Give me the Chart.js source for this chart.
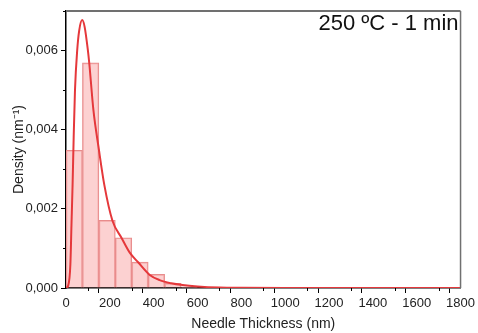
<!DOCTYPE html>
<html>
<head>
<meta charset="utf-8">
<script src="https://cdn.jsdelivr.net/npm/chart.js@4.4.1/dist/chart.umd.min.js"></script>
<style>
  html, body { margin: 0; padding: 0; background: #fff; }
  #wrap { width: 478px; height: 333px; }
</style>
</head>
<body>
<div id="wrap"><canvas id="histChart" width="478" height="333"></canvas></div>
<script>
// histogram bins (75 nm wide), centres and density
const binCenters = [37.5, 112.5, 187.5, 262.5, 337.5, 412.5, 487.5, 562.5];
const binDensity = [0.00348, 0.00569, 0.00171, 0.00127, 0.000655, 0.000345, 0.000118, 0.00003];

// fitted log-normal curve
const fitX = [0, 10, 20, 25, 30, 35, 41, 51, 60, 74, 85, 100, 106, 125, 150, 175, 212, 253, 290, 329, 382, 427, 480, 532, 600, 700, 800, 1000, 1400, 1800];
const fitY = [0, 0.00006, 0.0006, 0.0016, 0.0026, 0.0038, 0.005, 0.006, 0.0065, 0.00677, 0.0066, 0.006, 0.00569, 0.0045, 0.0035, 0.0026, 0.0017, 0.00127, 0.0009, 0.00065, 0.00033, 0.0002, 0.00012, 0.000075, 0.00004, 0.000012, 0.000004, 0, 0, 0];

const panelLabel = "250 ºC - 1 min";

const FONT = "'Liberation Sans', Arial, sans-serif";

// draws frame (top/right), short minor ticks and the panel label
const framePlugin = {
    id: "frame",
    afterDraw(chart) {
        const { ctx, chartArea: a, scales } = chart;
        ctx.save();
        ctx.strokeStyle = "#707070";
        ctx.lineWidth = 2;
        ctx.beginPath();
        ctx.moveTo(a.left, a.top);
        ctx.lineTo(a.right, a.top);
        ctx.stroke();
        ctx.lineWidth = 1.5;
        ctx.beginPath();
        ctx.moveTo(a.right, a.top);
        ctx.lineTo(a.right, a.bottom);
        ctx.stroke();

        // minor ticks
        ctx.strokeStyle = "#000";
        ctx.lineWidth = 1;
        scales.x.ticks.forEach((t) => {
            if (t.value % 200 !== 0) {
                const px = Math.round(scales.x.getPixelForValue(t.value)) + 0.5;
                ctx.beginPath();
                ctx.moveTo(px, a.bottom);
                ctx.lineTo(px, a.bottom + 3);
                ctx.stroke();
            }
        });
        scales.y.ticks.forEach((t) => {
            const k = Math.round(t.value * 1000);
            if (k % 2 !== 0) {
                const py = Math.round(scales.y.getPixelForValue(t.value)) + 0.5;
                ctx.beginPath();
                ctx.moveTo(a.left, py);
                ctx.lineTo(a.left - 3, py);
                ctx.stroke();
            }
        });

        ctx.fillStyle = "#111";
        ctx.font = "22px " + FONT;
        ctx.textAlign = "right";
        ctx.textBaseline = "alphabetic";
        ctx.fillText(panelLabel, a.right - 2, 30);
        ctx.restore();
    }
};

const ctx = document.getElementById("histChart");
new Chart(ctx, {
    type: "bar",
    data: {
        datasets: [
            {
                type: "line",
                label: "fit",
                data: fitX.map((x, i) => ({ x: x, y: fitY[i] })),
                borderColor: "#E5383B",
                borderWidth: 2,
                pointRadius: 0,
                cubicInterpolationMode: "monotone",
                fill: false,
                order: 0
            },
            {
                type: "bar",
                label: "hist",
                data: binCenters.map((x, i) => ({ x: x, y: binDensity[i] })),
                backgroundColor: "rgba(250, 185, 185, 0.65)",
                borderColor: "#E88C8C",
                borderWidth: 1,
                barPercentage: 1,
                categoryPercentage: 1,
                order: 1
            }
        ]
    },
    options: {
        responsive: false,
        animation: false,
        events: [],
        layout: { padding: { top: 11, right: 16, left: 0, bottom: 0 } },
        plugins: {
            legend: { display: false },
            tooltip: { enabled: false }
        },
        scales: {
            x: {
                type: "linear",
                offset: false,
                min: 0,
                max: 1800,
                afterFit: (s) => { s.height = 45; },
                border: { color: "#000", width: 1.5 },
                grid: {
                    drawOnChartArea: false,
                    tickLength: 5,
                    tickColor: (c) => (c.tick && c.tick.value % 200 === 0 ? "#000" : "rgba(0,0,0,0)")
                },
                ticks: {
                    stepSize: 100,
                    autoSkip: false,
                    maxRotation: 0,
                    color: "#222",
                    font: { family: FONT, size: 13 },
                    padding: 3,
                    callback: (v) => (v % 200 === 0 ? String(v) : "")
                },
                title: {
                    display: true,
                    text: "Needle Thickness (nm)",
                    color: "#222",
                    font: { family: FONT, size: 14 },
                    padding: { top: 2, bottom: 0 }
                }
            },
            y: {
                min: 0,
                max: 0.007,
                afterFit: (s) => { s.width = 66; },
                border: { color: "#000", width: 1.5 },
                grid: {
                    drawOnChartArea: false,
                    tickLength: 5,
                    tickColor: (c) => (c.tick && Math.round(c.tick.value * 1000) % 2 === 0 ? "#000" : "rgba(0,0,0,0)")
                },
                ticks: {
                    stepSize: 0.001,
                    autoSkip: false,
                    color: "#222",
                    font: { family: FONT, size: 13 },
                    padding: 3,
                    callback: (v) => (Math.round(v * 1000) % 2 === 0 ? v.toFixed(3).replace(".", ",") : "")
                },
                title: {
                    display: true,
                    text: "Density (nm⁻¹)",
                    color: "#222",
                    font: { family: FONT, size: 14 },
                    padding: { top: 11, bottom: 0 }
                }
            }
        }
    },
    plugins: [framePlugin]
});
</script>
</body>
</html>
